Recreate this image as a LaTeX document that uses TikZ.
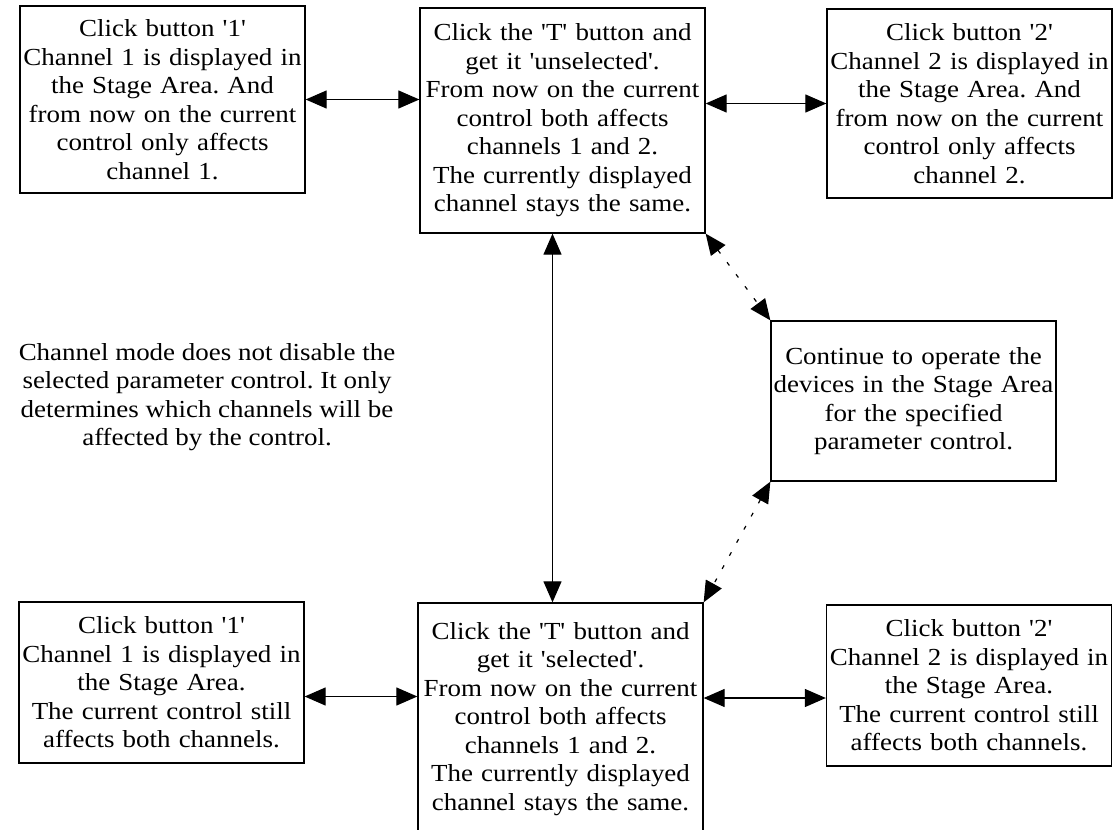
\documentclass[tikz,border=0pt]{standalone}
\usepackage{fontspec}
\setmainfont{Liberation Serif}[FakeStretch=1.1, Ligatures=TeXOff]
\usetikzlibrary{arrows.meta}
\frenchspacing
\begin{document}
\begin{tikzpicture}[x=1pt, y=-1pt,
  txt/.style={font=\fontsize{24.5}{28.5}\selectfont, align=center},
  box/.style={txt, draw, line width=1.3pt, inner sep=0pt, text width=285pt, minimum width=285pt},
  link/.style={line width=1.2pt, {Triangle[length=21pt,width=18pt]}-{Triangle[length=21pt,width=18pt]}},
  dlink/.style={link, dash pattern=on 4pt off 11pt}]
  \path[use as bounding box, clip] (0,0) rectangle (1115,829);

  % upper row: 'T' unselected
  \node[box, minimum height=187pt] (TL) at (162.5,99.5)
    {Click button '1'\\Channel 1 is displayed in\\the Stage Area. And\\from now on the current\\control only affects\\channel 1.};
  \node[box, minimum height=225pt] (TM) at (562.5,120.5)
    {Click the 'T' button and\\get it 'unselected'.\\From now on the current\\control both affects\\channels 1 and 2.\\The currently displayed\\channel stays the same.};
  \node[box, minimum height=189pt] (TR) at (969.5,103.5)
    {Click button '2'\\Channel 2 is displayed in\\the Stage Area. And\\from now on the current\\control only affects\\channel 2.};

  % operating the devices
  \node[box, minimum height=160pt] (CR) at (913.5,401)
    {Continue to operate the\\devices in the Stage Area\\for the specified\\parameter control.};

  % note
  \node[txt] (note) at (207,397)
    {Channel mode does not disable the\\selected parameter control. It only\\determines which channels will be\\affected by the control.};

  % lower row: 'T' selected
  \node[box, minimum height=161pt] (BL) at (161.5,682.5)
    {Click button '1'\\Channel 1 is displayed in\\the Stage Area.\\The current control still\\affects both channels.};
  \node[box, minimum height=232pt] (BM) at (560.5,719)
    {Click the 'T' button and\\get it 'selected'.\\From now on the current\\control both affects\\channels 1 and 2.\\The currently displayed\\channel stays the same.};
  \node[box, minimum height=161pt] (BR) at (969,685.5)
    {Click button '2'\\Channel 2 is displayed in\\the Stage Area.\\The current control still\\affects both channels.};

  % connectors
  \draw[link] (TL.east) -- (TL.east -| TM.west);
  \draw[link] (TR.west -| TM.east) -- (TR.west);
  \draw[link] ([yshift=-14pt]BL.east) -- ([yshift=-14pt]BL.east -| BM.west);
  \draw[link] ([yshift=-12.5pt]BR.west -| BM.east) -- ([yshift=-12.5pt]BR.west);
  \draw[link] ([xshift=-10pt]TM.south) -- ([xshift=-10pt]TM.south |- BM.north);
  \draw[dlink] (TM.south east) -- (CR.north west);
  \draw[dlink] (CR.south west) -- (BM.north east);
\end{tikzpicture}
\end{document}
